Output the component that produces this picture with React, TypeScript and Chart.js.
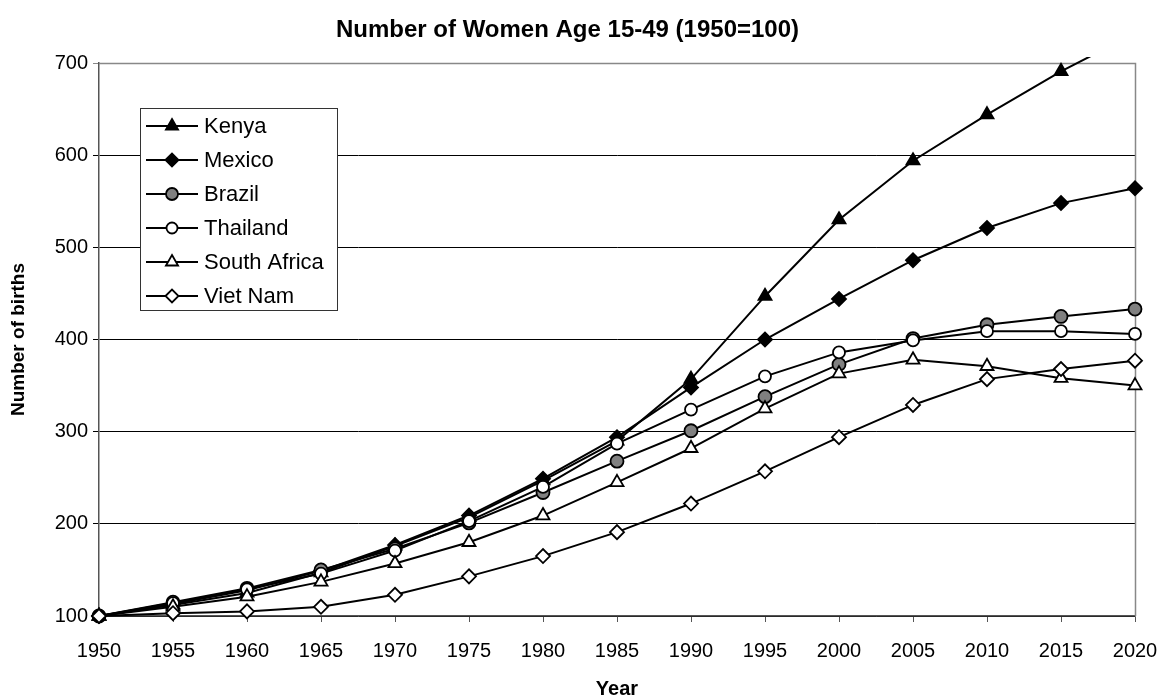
import React, { useEffect, useRef } from "react";
import { Chart, registerables } from "chart.js";

Chart.register(...registerables);

const years = ["1950", "1955", "1960", "1965", "1970", "1975", "1980", "1985", "1990", "1995", "2000", "2005", "2010", "2015", "2020"];

const kenya = [100, 112, 125, 147, 176, 207, 247, 290, 357, 447, 530, 594, 644, 691, 732];
const mexico = [100, 113, 128, 149, 177, 209, 249, 294, 348, 400, 444, 486, 521, 548, 564];
const brazil = [100, 115, 130, 150, 173, 201, 234, 268, 301, 338, 373, 401, 416, 425, 433];
const thailand = [100, 114, 129, 146, 171, 203, 240, 287, 324, 360, 386, 399, 409, 409, 406];
const southAfrica = [100, 110, 121, 137, 157, 180, 209, 245, 282, 325, 363, 378, 371, 358, 350];
const vietNam = [100, 103, 105, 110, 123, 143, 165, 191, 222, 257, 294, 329, 357, 368, 377];

const seriesNames = ["Kenya", "Mexico", "Brazil", "Thailand", "South Africa", "Viet Nam"];
const yTicks = [100, 200, 300, 400, 500, 600, 700];

const titleText = "Number of Women Age 15-49 (1950=100)";
const xTitle = "Year";
const yTitle = "Number of births";

const FONT = "'Liberation Sans', Arial, Helvetica, sans-serif";

type Style = { pointStyle: string; fill: string; radius: number; legendRadius: number };
const styles: Style[] = [
  { pointStyle: "triangle", fill: "#000000", radius: 7.5, legendRadius: 7 },
  { pointStyle: "rectRot", fill: "#000000", radius: 7, legendRadius: 6.5 },
  { pointStyle: "circle", fill: "#808080", radius: 6.5, legendRadius: 6 },
  { pointStyle: "circle", fill: "#ffffff", radius: 6, legendRadius: 5.5 },
  { pointStyle: "triangle", fill: "#ffffff", radius: 7.5, legendRadius: 7 },
  { pointStyle: "rectRot", fill: "#ffffff", radius: 7, legendRadius: 6.5 },
];

function drawMarker(ctx: CanvasRenderingContext2D, style: string, x: number, y: number, r: number) {
  ctx.beginPath();
  if (style === "circle") {
    ctx.arc(x, y, r, 0, Math.PI * 2);
  } else if (style === "rectRot") {
    ctx.moveTo(x - r, y);
    ctx.lineTo(x, y - r);
    ctx.lineTo(x + r, y);
    ctx.lineTo(x, y + r);
    ctx.closePath();
  } else if (style === "triangle") {
    ctx.moveTo(x, y - r);
    ctx.lineTo(x + r * 0.866, y + r * 0.5);
    ctx.lineTo(x - r * 0.866, y + r * 0.5);
    ctx.closePath();
  }
  ctx.fill();
  ctx.stroke();
}

const borderPlugin = {
  id: "plotBorder",
  beforeDatasetsDraw(chart: any) {
    const { ctx, chartArea } = chart;
    ctx.save();
    ctx.strokeStyle = "#888888";
    ctx.lineWidth = 1.5;
    ctx.beginPath();
    ctx.moveTo(chartArea.left, chartArea.top + 0.5);
    ctx.lineTo(chartArea.right + 0.5, chartArea.top + 0.5);
    ctx.lineTo(chartArea.right + 0.5, chartArea.bottom);
    ctx.stroke();
    ctx.restore();
  },
};

const legendPlugin = {
  id: "boxLegend",
  afterDraw(chart: any) {
    const { ctx } = chart;
    const x0 = 140.5, y0 = 108.5, w = 197, h = 202;
    ctx.save();
    ctx.fillStyle = "#ffffff";
    ctx.fillRect(x0, y0, w, h);
    ctx.strokeStyle = "#333333";
    ctx.lineWidth = 1;
    ctx.strokeRect(x0, y0, w, h);
    seriesNames.forEach((name, i) => {
      const cy = 126 + i * 34;
      ctx.strokeStyle = "#000";
      ctx.lineWidth = 2;
      ctx.beginPath();
      ctx.moveTo(146, cy);
      ctx.lineTo(198, cy);
      ctx.stroke();
      const s = styles[i];
      ctx.fillStyle = s.fill;
      ctx.strokeStyle = "#000";
      ctx.lineWidth = 1.8;
      drawMarker(ctx, s.pointStyle, 172, cy, s.legendRadius);
      ctx.fillStyle = "#000";
      ctx.font = `22px ${FONT}`;
      ctx.textAlign = "left";
      ctx.textBaseline = "middle";
      ctx.fillText(name, 204, cy + 1);
    });
    ctx.restore();
  },
};

export default function App() {
  const canvasRef = useRef<HTMLCanvasElement | null>(null);

  useEffect(() => {
    const canvas = canvasRef.current;
    if (!canvas) return;
    const allData = [kenya, mexico, brazil, thailand, southAfrica, vietNam];
    const datasets = allData.map((d, i) => ({
      label: seriesNames[i],
      data: d,
      borderColor: "#000000",
      borderWidth: 2,
      backgroundColor: styles[i].fill,
      pointStyle: styles[i].pointStyle,
      pointRadius: styles[i].radius,
      pointBorderWidth: 1.8,
      pointBorderColor: "#000000",
      pointBackgroundColor: styles[i].fill,
      tension: 0,
      fill: false,
      order: allData.length - i,
      clip: i === 0 ? { left: 12, top: 6, right: 12, bottom: 12 } : { left: 12, top: 12, right: 12, bottom: 12 },
    }));

    const chart = new Chart(canvas, {
      type: "line",
      data: { labels: years, datasets },
      plugins: [borderPlugin, legendPlugin],
      options: {
        animation: false,
        responsive: false,
        devicePixelRatio: 1,
        layout: { padding: { top: 0, left: 0, right: 35, bottom: 0 } },
        plugins: {
          legend: { display: false },
          tooltip: { enabled: false },
          title: {
            display: true,
            text: titleText,
            color: "#000",
            font: { family: FONT, size: 24, weight: "bold" },
            padding: { top: 15.6, bottom: 18.6 },
          },
        },
        scales: {
          x: {
            type: "category",
            offset: false,
            afterFit: (scale: any) => {
              scale.height = 82;
              scale.paddingLeft = 0;
              scale.paddingRight = 0;
            },
            grid: {
              display: true,
              drawOnChartArea: false,
              drawTicks: true,
              tickLength: 6,
              color: "#555555",
            },
            border: { display: true, color: "#555555", width: 1.5 },
            ticks: {
              color: "#000",
              font: { family: FONT, size: 20 },
              padding: 17,
              maxRotation: 0,
              autoSkip: false,
            },
            title: {
              display: true,
              text: xTitle,
              color: "#000",
              font: { family: FONT, size: 20, weight: "bold" },
              padding: { top: 0, bottom: -3 },
            },
          },
          y: {
            type: "linear",
            min: 100,
            max: 700,
            afterFit: (scale: any) => {
              scale.width = 99;
            },
            afterBuildTicks: (scale: any) => {
              scale.ticks = yTicks.map((v) => ({ value: v }));
            },
            grid: {
              display: true,
              drawOnChartArea: true,
              drawTicks: true,
              tickLength: 6,
              color: (c: any) => (c.tick && c.tick.value === 700 ? "#888888" : "#000000"),
              lineWidth: 1,
            },
            border: { display: true, color: "#555555", width: 1.5 },
            ticks: {
              color: "#000",
              font: { family: FONT, size: 20 },
              padding: 5,
            },
            title: {
              display: true,
              text: yTitle,
              color: "#000",
              font: { family: FONT, size: 19, weight: "bold" },
              padding: { top: 7.5, bottom: 0 },
            },
          },
        },
      } as any,
    });
    return () => chart.destroy();
  }, []);

  return (
    <div style={{ position: "absolute", left: 0, top: 0, width: 1170, height: 698, background: "#fff" }}>
      <canvas ref={canvasRef} width={1170} height={698} style={{ display: "block", width: 1170, height: 698 }} />
    </div>
  );
}
